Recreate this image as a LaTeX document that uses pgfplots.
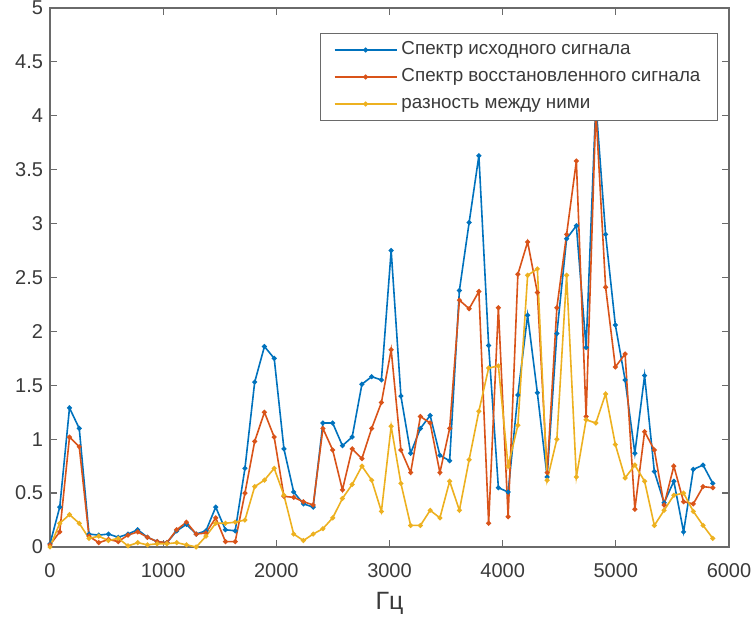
\documentclass[border=0pt]{standalone}
\usepackage{fontspec}
\setmainfont{Liberation Sans}
\usepackage{pgfplots}
\usepackage{pgfplotstable}
\pgfplotsset{compat=1.18}

\definecolor{mblue}{rgb}{0,0.447,0.741}
\definecolor{mred}{rgb}{0.85,0.325,0.098}
\definecolor{myellow}{rgb}{0.929,0.694,0.125}
\definecolor{axgray}{HTML}{6A6A6A}
\definecolor{txtgray}{HTML}{3A3A3A}

% f = frequency (Hz), a = original spectrum, b = restored spectrum, c = difference
\pgfplotstableread{
f a b c
0.0 0.03 0.02 0.00
86.1 0.37 0.14 0.22
172.3 1.29 1.02 0.30
258.4 1.10 0.93 0.22
344.5 0.12 0.10 0.08
430.7 0.11 0.04 0.10
516.8 0.12 0.07 0.06
602.9 0.09 0.05 0.08
689.1 0.12 0.11 0.01
775.2 0.16 0.14 0.04
861.3 0.09 0.09 0.02
947.5 0.05 0.05 0.03
1033.6 0.04 0.04 0.03
1119.7 0.15 0.16 0.04
1205.9 0.21 0.23 0.02
1292.0 0.12 0.12 0.00
1378.1 0.15 0.13 0.10
1464.3 0.37 0.27 0.22
1550.4 0.16 0.05 0.22
1636.5 0.15 0.05 0.23
1722.7 0.73 0.50 0.25
1808.8 1.53 0.98 0.56
1894.9 1.86 1.25 0.62
1981.1 1.75 1.02 0.73
2067.2 0.91 0.47 0.48
2153.3 0.51 0.46 0.12
2239.5 0.40 0.42 0.06
2325.6 0.37 0.39 0.12
2411.7 1.15 1.10 0.17
2497.9 1.15 0.90 0.27
2584.0 0.94 0.53 0.45
2670.1 1.02 0.91 0.58
2756.3 1.51 0.82 0.75
2842.4 1.58 1.10 0.62
2928.5 1.55 1.34 0.33
3014.7 2.75 1.83 1.12
3100.8 1.40 0.90 0.59
3186.9 0.87 0.69 0.20
3273.1 1.10 1.21 0.20
3359.2 1.22 1.15 0.34
3445.3 0.85 0.69 0.27
3531.5 0.80 1.10 0.61
3617.6 2.38 2.29 0.34
3703.7 3.01 2.21 0.81
3789.8 3.63 2.37 1.26
3876.0 1.87 0.22 1.66
3962.1 0.55 2.22 1.68
4048.2 0.51 0.28 0.75
4134.4 1.41 2.53 1.13
4220.5 2.15 2.83 2.52
4306.6 1.43 2.36 2.58
4392.8 0.65 0.69 0.62
4478.9 1.98 2.22 1.00
4565.0 2.86 2.90 2.52
4651.2 2.98 3.58 0.65
4737.3 1.85 1.21 1.18
4823.4 4.12 4.05 1.15
4909.6 2.90 2.41 1.42
4995.7 2.06 1.67 0.95
5081.8 1.55 1.79 0.64
5168.0 0.87 0.35 0.76
5254.1 1.59 1.07 0.61
5340.2 0.70 0.90 0.20
5426.4 0.41 0.39 0.34
5512.5 0.61 0.75 0.48
5598.6 0.14 0.42 0.50
5684.8 0.72 0.40 0.33
5770.9 0.76 0.56 0.20
5857.0 0.59 0.55 0.08
}\spectra

\begin{document}
\begin{tikzpicture}
\begin{axis}[
    scale only axis,
    width=339.5pt, height=269.5pt,
    xmin=0, xmax=6000, ymin=0, ymax=5,
    xtick={0,1000,2000,3000,4000,5000,6000},
    ytick={0,0.5,1,1.5,2,2.5,3,3.5,4,4.5,5},
    scaled x ticks=false,
    /pgf/number format/1000 sep={},
    /pgf/number format/assume math mode=true,
    tick align=inside,
    major tick length=3.5pt,
    axis line style={axgray, line width=0.6pt},
    every tick/.style={axgray, line width=0.6pt},
    tick label style={font=\fontsize{10}{12}\selectfont, text=txtgray},
    xticklabel style={yshift=-4.5pt},
    xlabel={Гц},
    xlabel style={font=\fontsize{12.5}{14}\selectfont, text=txtgray,
        at={(axis description cs:0.5,0)}, anchor=center, yshift=-28pt},
    legend style={
        at={(rel axis cs:1,1)}, anchor=north east,
        xshift=-5.5pt, yshift=-12.5pt,
        draw=axgray, line width=0.5pt,
        font=\fontsize{9.4}{11}\selectfont, text=txtgray,
        inner xsep=6.5pt, inner ysep=1.5pt,
        row sep=0pt,
        nodes={text height=7pt, text depth=2.5pt, inner ysep=2pt},
        cells={anchor=west},
    },
    legend image code/.code={
        \draw[mark repeat=2, mark phase=2]
            plot coordinates {(0pt,0pt) (15.5pt,0pt) (31pt,0pt)};
    },
    every axis plot/.append style={line width=0.8pt, mark=*, mark size=0.8pt},
]
\addplot[mblue, mark options={fill=mblue}] table[x=f, y=a] {\spectra};
\addlegendentry{Спектр исходного сигнала}
\addplot[mred, mark options={fill=mred}] table[x=f, y=b] {\spectra};
\addlegendentry{Спектр восстановленного сигнала}
\addplot[myellow, mark options={fill=myellow}] table[x=f, y=c] {\spectra};
\addlegendentry{разность между ними}
\end{axis}
\pgfresetboundingbox
\path ([shift={(-25pt,-35.5pt)}]current axis.south west)
    rectangle ([shift={(12pt,4pt)}]current axis.north east);
\end{tikzpicture}
\end{document}
